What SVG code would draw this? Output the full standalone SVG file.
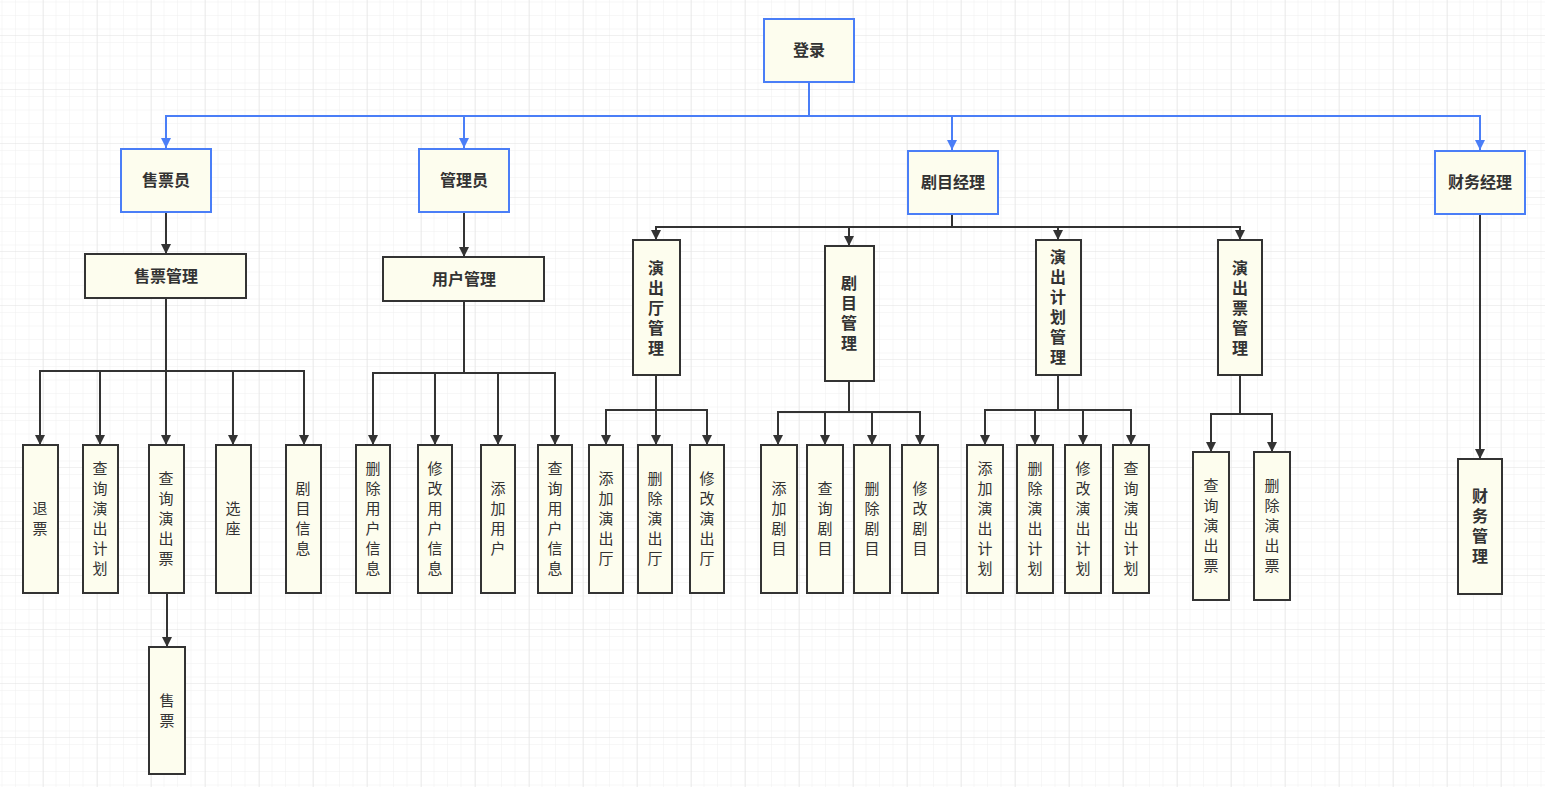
<svg xmlns="http://www.w3.org/2000/svg" width="1545" height="787" viewBox="0 0 1545 787">
<defs>
<pattern id="g" x="2.5" y="2.5" width="13.5" height="13.5" patternUnits="userSpaceOnUse"><path d="M13.5 0V13.5H0" fill="none" stroke="#f0f0f0" stroke-width="1"/></pattern>
<pattern id="G" x="43" y="35" width="54" height="54" patternUnits="userSpaceOnUse"><path d="M0 0H54M0 0V54" fill="none" stroke="#e2e2e2" stroke-width="1"/></pattern>
<marker id="a" viewBox="0 0 10 10" refX="10" refY="5" markerWidth="10" markerHeight="10" markerUnits="userSpaceOnUse" orient="auto"><path d="M0 0L10 5L0 10z" fill="#333"/></marker>
<marker id="b" viewBox="0 0 10 10" refX="10" refY="5" markerWidth="10" markerHeight="10" markerUnits="userSpaceOnUse" orient="auto"><path d="M0 0L10 5L0 10z" fill="#4a7ef7"/></marker>
<style>
rect{fill:#fdfdee;stroke:#333;stroke-width:2}
rect.b{stroke:#4a7ef7}
text{font-family:"Noto Sans CJK SC",sans-serif;font-size:15px;fill:#333;text-anchor:middle}
.t{font-weight:bold;font-size:16px}
#c path{fill:none;stroke:#333;stroke-width:2}
#c path.bl{stroke:#4a7ef7}
</style>
</defs>
<rect x="0" y="0" width="1545" height="787" style="fill:#fff;stroke:none"/>
<rect x="0" y="0" width="1545" height="787" style="fill:url(#g);stroke:none"/>
<rect x="0" y="0" width="1545" height="787" style="fill:url(#G);stroke:none"/>
<g id="c">
<path class="bl" d="M809 82V116H166V148M464 116V148M809 116H952V150M952 116H1480V150" marker-end="url(#b)"/>
<path class="bl" d="M464 116V148" marker-end="url(#b)"/>
<path class="bl" d="M809 116H952V150" marker-end="url(#b)"/>
<path class="bl" d="M166 116V148" marker-end="url(#b)"/>
<path d="M166 212V254" marker-end="url(#a)"/>
<path d="M464 212V257" marker-end="url(#a)"/>
<path d="M166 298V371H40V445" marker-end="url(#a)"/>
<path d="M100 371V445" marker-end="url(#a)"/>
<path d="M166 371V445" marker-end="url(#a)"/>
<path d="M166 371H233V445" marker-end="url(#a)"/>
<path d="M233 371H304V445" marker-end="url(#a)"/>
<path d="M167 593V647" marker-end="url(#a)"/>
<path d="M464 301V373H373V445" marker-end="url(#a)"/>
<path d="M435 373V445" marker-end="url(#a)"/>
<path d="M464 373H498V445" marker-end="url(#a)"/>
<path d="M498 373H555V445" marker-end="url(#a)"/>
<path d="M952 214V227H656V240" marker-end="url(#a)"/>
<path d="M849 227V246" marker-end="url(#a)"/>
<path d="M952 227H1058V240" marker-end="url(#a)"/>
<path d="M1058 227H1240V240" marker-end="url(#a)"/>
<path d="M656 375V410H606V445" marker-end="url(#a)"/>
<path d="M656 410V445" marker-end="url(#a)"/>
<path d="M656 410H707V445" marker-end="url(#a)"/>
<path d="M849 381V412H778V445" marker-end="url(#a)"/>
<path d="M825 412V445" marker-end="url(#a)"/>
<path d="M849 412H872V445" marker-end="url(#a)"/>
<path d="M872 412H920V445" marker-end="url(#a)"/>
<path d="M1058 375V410H985V445" marker-end="url(#a)"/>
<path d="M1035 410V445" marker-end="url(#a)"/>
<path d="M1058 410H1083V445" marker-end="url(#a)"/>
<path d="M1083 410H1131V445" marker-end="url(#a)"/>
<path d="M1240 375V414H1211V452" marker-end="url(#a)"/>
<path d="M1240 414H1272V452" marker-end="url(#a)"/>
<path d="M1480 214V459" marker-end="url(#a)"/>
</g>
<g id="n_login"><rect class="b" x="764" y="19" width="90" height="63"/><text class="t" x="809" y="56">登录</text></g>
<g id="n_seller"><rect class="b" x="121" y="149" width="90" height="63"/><text class="t" x="166" y="186">售票员</text></g>
<g id="n_admin"><rect class="b" x="419" y="149" width="90" height="63"/><text class="t" x="464" y="186">管理员</text></g>
<g id="n_pm"><rect class="b" x="908" y="151" width="90" height="63"/><text class="t" x="953" y="188">剧目经理</text></g>
<g id="n_fm"><rect class="b" x="1435" y="151" width="90" height="63"/><text class="t" x="1480" y="188">财务经理</text></g>
<g id="n_sm"><rect x="85" y="254" width="161" height="44"/><text class="t" x="166" y="282">售票管理</text></g>
<g id="n_um"><rect x="383" y="257" width="161" height="44"/><text class="t" x="464" y="285">用户管理</text></g>
<g id="n_hall"><rect x="633" y="240" width="47" height="135"/><text class="t" x="656" y="274"><tspan x="656">演</tspan><tspan x="656" dy="20">出</tspan><tspan x="656" dy="20">厅</tspan><tspan x="656" dy="20">管</tspan><tspan x="656" dy="20">理</tspan></text></g>
<g id="n_play"><rect x="825" y="246" width="49" height="135"/><text class="t" x="849" y="289"><tspan x="849">剧</tspan><tspan x="849" dy="20">目</tspan><tspan x="849" dy="20">管</tspan><tspan x="849" dy="20">理</tspan></text></g>
<g id="n_plan"><rect x="1036" y="240" width="45" height="135"/><text class="t" x="1058" y="263"><tspan x="1058">演</tspan><tspan x="1058" dy="20">出</tspan><tspan x="1058" dy="20">计</tspan><tspan x="1058" dy="20">划</tspan><tspan x="1058" dy="20">管</tspan><tspan x="1058" dy="20">理</tspan></text></g>
<g id="n_ticket"><rect x="1218" y="240" width="44" height="135"/><text class="t" x="1240" y="274"><tspan x="1240">演</tspan><tspan x="1240" dy="20">出</tspan><tspan x="1240" dy="20">票</tspan><tspan x="1240" dy="20">管</tspan><tspan x="1240" dy="20">理</tspan></text></g>
<g id="n_fin"><rect x="1458" y="459" width="44" height="135"/><text class="t" x="1480" y="502"><tspan x="1480">财</tspan><tspan x="1480" dy="20">务</tspan><tspan x="1480" dy="20">管</tspan><tspan x="1480" dy="20">理</tspan></text></g>
<g id="l1"><rect x="23" y="445" width="35" height="148"/><text x="40" y="514"><tspan x="40">退</tspan><tspan x="40" dy="20">票</tspan></text></g>
<g id="l2"><rect x="83" y="445" width="35" height="148"/><text x="100" y="474"><tspan x="100">查</tspan><tspan x="100" dy="20">询</tspan><tspan x="100" dy="20">演</tspan><tspan x="100" dy="20">出</tspan><tspan x="100" dy="20">计</tspan><tspan x="100" dy="20">划</tspan></text></g>
<g id="l3"><rect x="149" y="445" width="35" height="148"/><text x="166" y="484"><tspan x="166">查</tspan><tspan x="166" dy="20">询</tspan><tspan x="166" dy="20">演</tspan><tspan x="166" dy="20">出</tspan><tspan x="166" dy="20">票</tspan></text></g>
<g id="l4"><rect x="216" y="445" width="35" height="148"/><text x="233" y="514"><tspan x="233">选</tspan><tspan x="233" dy="20">座</tspan></text></g>
<g id="l5"><rect x="286" y="445" width="35" height="148"/><text x="303" y="494"><tspan x="303">剧</tspan><tspan x="303" dy="20">目</tspan><tspan x="303" dy="20">信</tspan><tspan x="303" dy="20">息</tspan></text></g>
<g id="l6"><rect x="149" y="647" width="36" height="127"/><text x="167" y="706"><tspan x="167">售</tspan><tspan x="167" dy="20">票</tspan></text></g>
<g id="l7"><rect x="356" y="445" width="34" height="148"/><text x="373" y="474"><tspan x="373">删</tspan><tspan x="373" dy="20">除</tspan><tspan x="373" dy="20">用</tspan><tspan x="373" dy="20">户</tspan><tspan x="373" dy="20">信</tspan><tspan x="373" dy="20">息</tspan></text></g>
<g id="l8"><rect x="418" y="445" width="34" height="148"/><text x="435" y="474"><tspan x="435">修</tspan><tspan x="435" dy="20">改</tspan><tspan x="435" dy="20">用</tspan><tspan x="435" dy="20">户</tspan><tspan x="435" dy="20">信</tspan><tspan x="435" dy="20">息</tspan></text></g>
<g id="l9"><rect x="481" y="445" width="34" height="148"/><text x="498" y="494"><tspan x="498">添</tspan><tspan x="498" dy="20">加</tspan><tspan x="498" dy="20">用</tspan><tspan x="498" dy="20">户</tspan></text></g>
<g id="l10"><rect x="538" y="445" width="34" height="148"/><text x="555" y="474"><tspan x="555">查</tspan><tspan x="555" dy="20">询</tspan><tspan x="555" dy="20">用</tspan><tspan x="555" dy="20">户</tspan><tspan x="555" dy="20">信</tspan><tspan x="555" dy="20">息</tspan></text></g>
<g id="l11"><rect x="589" y="445" width="34" height="148"/><text x="606" y="484"><tspan x="606">添</tspan><tspan x="606" dy="20">加</tspan><tspan x="606" dy="20">演</tspan><tspan x="606" dy="20">出</tspan><tspan x="606" dy="20">厅</tspan></text></g>
<g id="l12"><rect x="638" y="445" width="34" height="148"/><text x="655" y="484"><tspan x="655">删</tspan><tspan x="655" dy="20">除</tspan><tspan x="655" dy="20">演</tspan><tspan x="655" dy="20">出</tspan><tspan x="655" dy="20">厅</tspan></text></g>
<g id="l13"><rect x="690" y="445" width="34" height="148"/><text x="707" y="484"><tspan x="707">修</tspan><tspan x="707" dy="20">改</tspan><tspan x="707" dy="20">演</tspan><tspan x="707" dy="20">出</tspan><tspan x="707" dy="20">厅</tspan></text></g>
<g id="l14"><rect x="761" y="445" width="36" height="148"/><text x="779" y="494"><tspan x="779">添</tspan><tspan x="779" dy="20">加</tspan><tspan x="779" dy="20">剧</tspan><tspan x="779" dy="20">目</tspan></text></g>
<g id="l15"><rect x="807" y="445" width="36" height="148"/><text x="825" y="494"><tspan x="825">查</tspan><tspan x="825" dy="20">询</tspan><tspan x="825" dy="20">剧</tspan><tspan x="825" dy="20">目</tspan></text></g>
<g id="l16"><rect x="854" y="445" width="36" height="148"/><text x="872" y="494"><tspan x="872">删</tspan><tspan x="872" dy="20">除</tspan><tspan x="872" dy="20">剧</tspan><tspan x="872" dy="20">目</tspan></text></g>
<g id="l17"><rect x="902" y="445" width="36" height="148"/><text x="920" y="494"><tspan x="920">修</tspan><tspan x="920" dy="20">改</tspan><tspan x="920" dy="20">剧</tspan><tspan x="920" dy="20">目</tspan></text></g>
<g id="l18"><rect x="967" y="445" width="36" height="148"/><text x="985" y="474"><tspan x="985">添</tspan><tspan x="985" dy="20">加</tspan><tspan x="985" dy="20">演</tspan><tspan x="985" dy="20">出</tspan><tspan x="985" dy="20">计</tspan><tspan x="985" dy="20">划</tspan></text></g>
<g id="l19"><rect x="1017" y="445" width="36" height="148"/><text x="1035" y="474"><tspan x="1035">删</tspan><tspan x="1035" dy="20">除</tspan><tspan x="1035" dy="20">演</tspan><tspan x="1035" dy="20">出</tspan><tspan x="1035" dy="20">计</tspan><tspan x="1035" dy="20">划</tspan></text></g>
<g id="l20"><rect x="1065" y="445" width="36" height="148"/><text x="1083" y="474"><tspan x="1083">修</tspan><tspan x="1083" dy="20">改</tspan><tspan x="1083" dy="20">演</tspan><tspan x="1083" dy="20">出</tspan><tspan x="1083" dy="20">计</tspan><tspan x="1083" dy="20">划</tspan></text></g>
<g id="l21"><rect x="1113" y="445" width="36" height="148"/><text x="1131" y="474"><tspan x="1131">查</tspan><tspan x="1131" dy="20">询</tspan><tspan x="1131" dy="20">演</tspan><tspan x="1131" dy="20">出</tspan><tspan x="1131" dy="20">计</tspan><tspan x="1131" dy="20">划</tspan></text></g>
<g id="l22"><rect x="1193" y="452" width="36" height="148"/><text x="1211" y="491"><tspan x="1211">查</tspan><tspan x="1211" dy="20">询</tspan><tspan x="1211" dy="20">演</tspan><tspan x="1211" dy="20">出</tspan><tspan x="1211" dy="20">票</tspan></text></g>
<g id="l23"><rect x="1254" y="452" width="36" height="148"/><text x="1272" y="491"><tspan x="1272">删</tspan><tspan x="1272" dy="20">除</tspan><tspan x="1272" dy="20">演</tspan><tspan x="1272" dy="20">出</tspan><tspan x="1272" dy="20">票</tspan></text></g>
</svg>
